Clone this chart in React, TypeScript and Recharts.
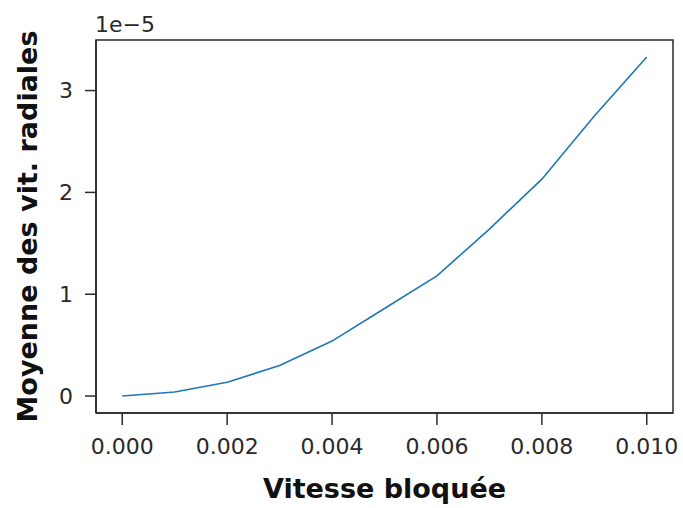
import { LineChart, Line, XAxis, YAxis, ReferenceArea, Label } from "recharts";

// vitesse bloquée (x) et moyenne des vitesses radiales (en unités de 1e-5)
const speeds = [0, 0.001, 0.002, 0.003, 0.004, 0.005, 0.006, 0.007, 0.008, 0.009, 0.01];
const meanRadial = [0, 0.04, 0.135, 0.3, 0.54, 0.86, 1.18, 1.64, 2.13, 2.75, 3.33];
const xTicks = [0, 0.002, 0.004, 0.006, 0.008, 0.01];
const yTicks = [0, 1, 2, 3];

const data = speeds.map((x, i) => ({ x, y: meanRadial[i] }));

// marges à la matplotlib (5 %)
const xMin = -0.0005;
const xMax = 0.0105;
const yPad = (Math.max(...meanRadial) - Math.min(...meanRadial)) * 0.05;
const yMin = Math.min(...meanRadial) - yPad;
const yMax = Math.max(...meanRadial) + yPad;

const INK = "#2a2a2a";
const FONT = "'DejaVu Sans', sans-serif";

export default function App() {
  return (
    <div style={{ position: "absolute", left: 0, top: 0, background: "#fff" }}>
      <LineChart
        width={683}
        height={508}
        data={data}
        margin={{ top: 40, right: 10, left: 0, bottom: 0 }}
        style={{ fontFamily: FONT }}
      >
        <XAxis
          dataKey="x"
          type="number"
          domain={[xMin, xMax]}
          ticks={xTicks}
          allowDataOverflow
          height={95}
          tickFormatter={(v: number) => v.toFixed(3)}
          tickSize={12}
          tickMargin={13}
          axisLine={{ stroke: INK, strokeWidth: 1.5 }}
          tickLine={{ stroke: INK, strokeWidth: 1.5 }}
          tick={{ fontSize: 22, fill: INK, fontFamily: FONT }}
        >
          <Label
            value="Vitesse bloquée"
            position="insideBottom"
            offset={10}
            style={{ fontSize: 27, fontWeight: "bold", fill: "#111", fontFamily: FONT }}
          />
        </XAxis>
        <YAxis
          type="number"
          domain={[yMin, yMax]}
          ticks={yTicks}
          allowDataOverflow
          width={96}
          tickSize={11}
          tickMargin={12}
          axisLine={{ stroke: INK, strokeWidth: 1.5 }}
          tickLine={{ stroke: INK, strokeWidth: 1.5 }}
          tick={{ fontSize: 22, fill: INK, fontFamily: FONT }}
        >
          <Label
            value="Moyenne des vit. radiales"
            angle={-90}
            position="insideLeft"
            offset={27}
            style={{ fontSize: 27, fontWeight: "bold", fill: "#111", fontFamily: FONT, textAnchor: "middle" }}
          />
        </YAxis>
        {/* cadre du graphique */}
        <ReferenceArea
          x1={xMin}
          x2={xMax}
          y1={yMin}
          y2={yMax}
          fill="none"
          stroke={INK}
          strokeWidth={1.5}
          ifOverflow="visible"
        />
        <Line
          dataKey="y"
          stroke="#1f77b4"
          strokeWidth={1.6}
          dot={false}
          isAnimationActive={false}
        />
        <text x={95} y={32} fontSize={22} fill={INK} fontFamily={FONT}>
          1e−5
        </text>
      </LineChart>
    </div>
  );
}
